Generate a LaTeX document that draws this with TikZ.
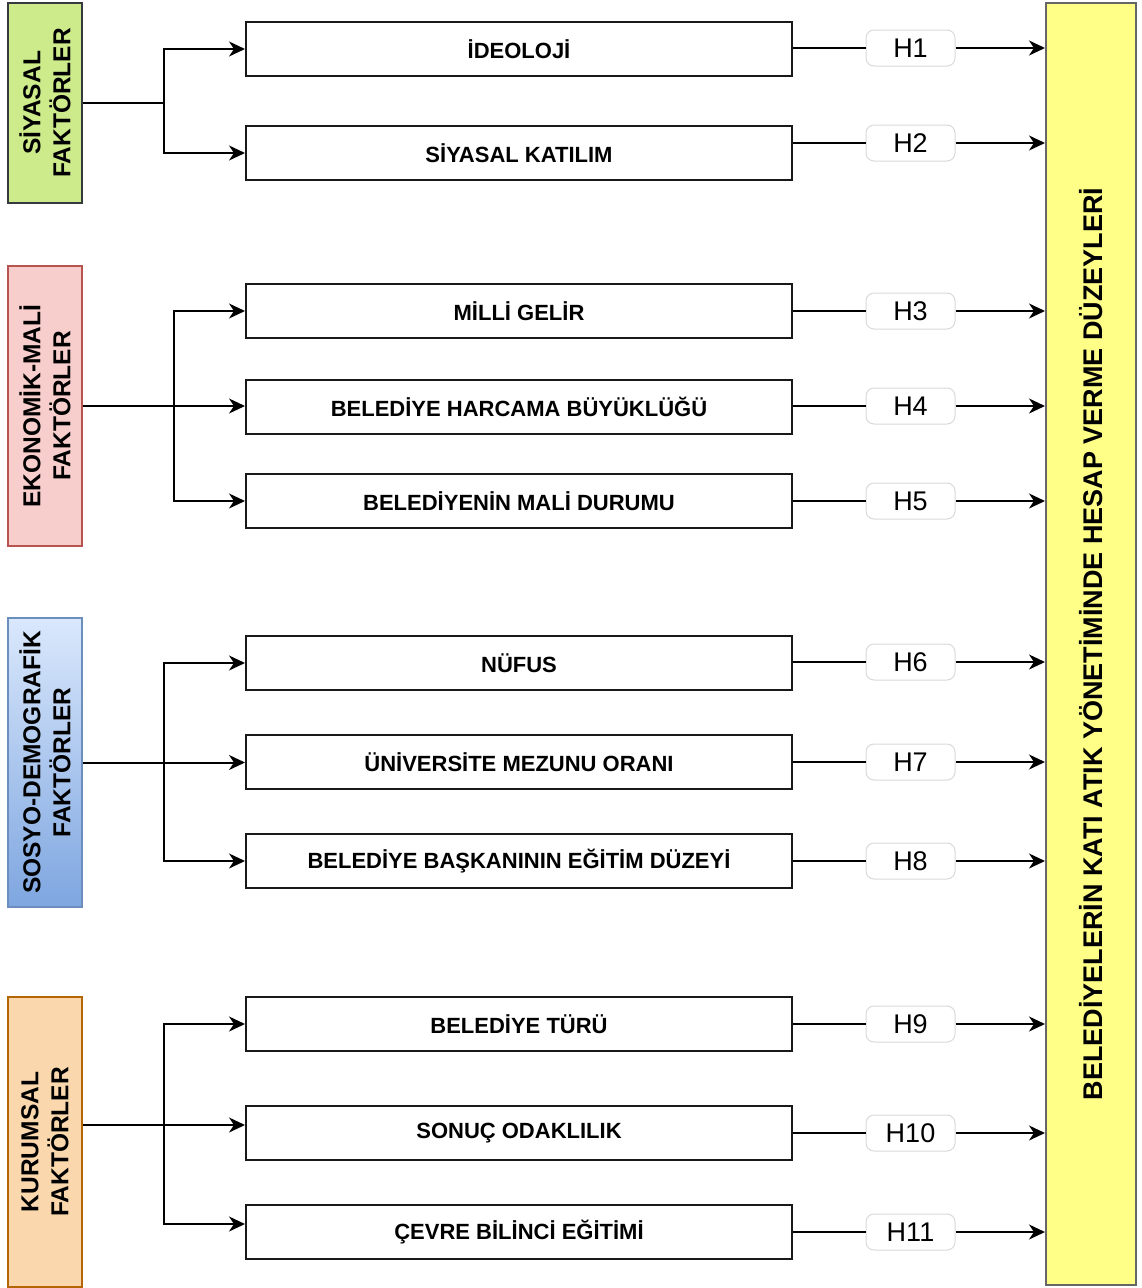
\documentclass[tikz,border=0pt]{standalone}
\usepackage{fontspec}
\setmainfont{Liberation Sans}
\usetikzlibrary{arrows.meta,calc}
\definecolor{mygreen}{HTML}{CDEB8B}
\definecolor{mygreenline}{HTML}{36393D}
\definecolor{myred}{HTML}{F8CECC}
\definecolor{myredline}{HTML}{B85450}
\definecolor{myblueA}{HTML}{DAE8FC}
\definecolor{myblueB}{HTML}{7EA6E0}
\definecolor{myblueline}{HTML}{6C8EBF}
\definecolor{myorange}{HTML}{FAD7AC}
\definecolor{myorangeline}{HTML}{B46504}
\definecolor{myyellow}{HTML}{FFFF88}
\definecolor{myyellowline}{HTML}{666666}
\definecolor{hline}{HTML}{D9D9D9}
\tikzset{
  factor/.style={draw, line width=2pt, rotate=90, minimum height=74pt, inner sep=0pt,
    align=center, font=\bfseries\fontsize{24.5}{30}\selectfont},
  itembox/.style={draw=black!90, line width=2pt, minimum width=546pt, minimum height=54pt,
    inner sep=0pt, font=\bfseries\fontsize{22}{26}\selectfont},
  hbox/.style={draw=hline, line width=1pt, rounded corners=8pt, fill=white,
    minimum width=89pt, minimum height=36pt, inner sep=0pt, font=\fontsize{27}{32}\selectfont},
  conn/.style={line width=2pt, black},
  arr/.style={conn, -{Stealth[length=16pt,width=15pt,inset=5pt]}},
}
\begin{document}
\begin{tikzpicture}[x=1pt,y=-1pt]
\useasboundingbox (0,0) rectangle (1141,1288);
% factor boxes
\node[factor, fill=mygreen, draw=mygreenline, minimum width=200pt] (sy) at (45,103) {SİYASAL\\FAKTÖRLER};
\node[factor, fill=myred, draw=myredline, minimum width=280pt] (ek) at (45,406) {EKONOMİK-MALİ\\FAKTÖRLER};
\node[factor, top color=myblueA, bottom color=myblueB, draw=myblueline, minimum width=289pt] (so) at (45,762.5) {SOSYO-DEMOGRAFİK\\FAKTÖRLER};
\node[factor, fill=myorange, draw=myorangeline, minimum width=290pt] (ku) at (45,1142) {KURUMSAL\\FAKTÖRLER};
% target box
\node[draw=myyellowline, fill=myyellow, line width=2pt, rotate=90, minimum width=1282pt, minimum height=90pt,
  inner sep=0pt, font=\bfseries\fontsize{27}{32}\selectfont] (Y) at (1091,644)
  {BELEDİYELERİN KATI ATIK YÖNETİMİNDE HESAP VERME DÜZEYLERİ};
% item boxes
\node[itembox] (b1) at (519,49) {İDEOLOJİ};
\node[itembox] (b2) at (519,153) {SİYASAL KATILIM};
\node[itembox] (b3) at (519,311) {MİLLİ GELİR};
\node[itembox] (b4) at (519,406.5) {BELEDİYE HARCAMA BÜYÜKLÜĞÜ};
\node[itembox] (b5) at (519,501) {BELEDİYENİN MALİ DURUMU};
\node[itembox] (b6) at (519,663) {NÜFUS};
\node[itembox] (b7) at (519,762) {ÜNİVERSİTE MEZUNU ORANI};
\node[itembox] (b8) at (519,861) {BELEDİYE BAŞKANININ EĞİTİM DÜZEYİ};
\node[itembox] (b9) at (519,1024) {BELEDİYE TÜRÜ};
\node[itembox] (b10) at (519,1133) {SONUÇ ODAKLILIK};
\node[itembox] (b11) at (519,1232) {ÇEVRE BİLİNCİ EĞİTİMİ};
% hypothesis labels
\foreach \i/\y in {1/48,2/143,3/311,4/406,5/501,6/662,7/762,8/861,9/1024,10/1133,11/1232}{
  \node[hbox] (h\i) at (910.5,\y) {H\i};
  \draw[conn] (h\i -| b\i.east) -- (h\i.west);
  \draw[arr] (h\i.east) -- (h\i -| Y.north);
}
% siyasal
\draw[arr] (sy.south) -- ++(81,0) |- (b1.west);
\draw[arr] (sy.south) -- ++(81,0) |- (b2.west);
% ekonomik
\draw[arr] (ek.south) -- (ek.south -| b4.west);
\draw[arr] (ek.south) -- ++(91,0) |- (b3.west);
\draw[arr] (ek.south) -- ++(91,0) |- (b5.west);
% sosyo
\draw[arr] (so.south) -- (so.south -| b7.west);
\draw[arr] (so.south) -- ++(81,0) |- (b6.west);
\draw[arr] (so.south) -- ++(81,0) |- (b8.west);
% kurumsal
\draw[arr] ([yshift=17pt]ku.south) -- ([yshift=17pt]ku.south -| b10.west);
\draw[arr] ([yshift=17pt]ku.south) -- ++(81,0) |- (b9.west);
\draw[arr] ([yshift=17pt]ku.south) -- ++(81,0) |- ([yshift=8pt]b11.west);
\end{tikzpicture}
\end{document}
